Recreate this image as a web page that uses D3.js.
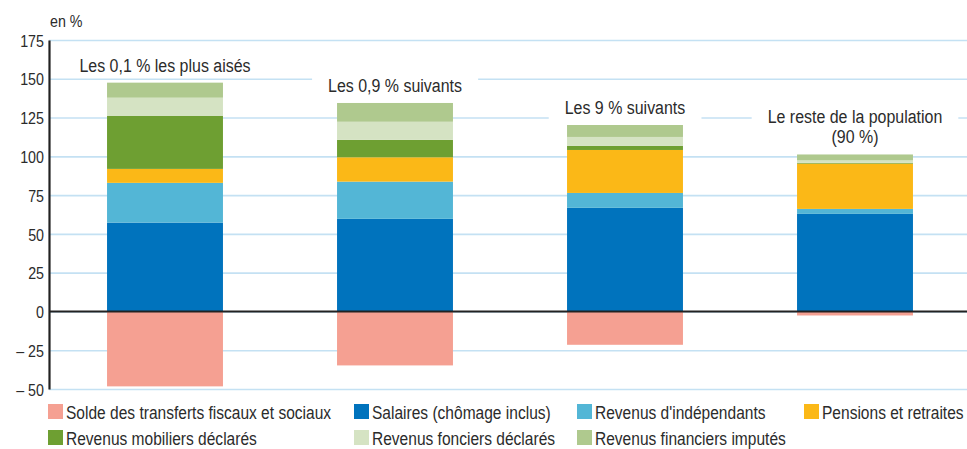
<!DOCTYPE html>
<html>
<head>
<meta charset="utf-8">
<script src="https://cdn.jsdelivr.net/npm/d3@7"></script>
<style>
  body { margin: 0; background: #fff; }
  svg text { font-family: "Liberation Sans", Arial, sans-serif; fill: #2b2b2b; }
</style>
</head>
<body>
<div id="graph"></div>
<script>
// groups (x categories)
var groups = ["Les 0,1 % les plus aisés", "Les 0,9 % suivants", "Les 9 % suivants", "Le reste de la population|(90 %)"];

// series, bottom to top
var seriesNames = ["Salaires (chômage inclus)", "Revenus d'indépendants", "Pensions et retraites",
                   "Revenus mobiliers déclarés", "Revenus fonciers déclarés", "Revenus financiers imputés",
                   "Solde des transferts fiscaux et sociaux"];

var salaires    = [57.3, 59.7, 66.8, 62.9];
var independants = [25.6, 24.0, 9.6, 3.2];
var pensions    = [9.0, 15.7, 27.7, 29.2];
var mobiliers   = [34.1, 11.2, 2.6, 0.5];
var fonciers    = [11.8, 11.7, 5.8, 1.6];
var financiers  = [9.7, 12.1, 7.7, 3.8];
var solde       = [-48.3, -34.8, -21.5, -2.6];

var yTicks = [-50, -25, 0, 25, 50, 75, 100, 125, 150, 175];

// legend order
var legendOrder = ["Solde des transferts fiscaux et sociaux", "Salaires (chômage inclus)", "Revenus d'indépendants",
                   "Pensions et retraites", "Revenus mobiliers déclarés", "Revenus fonciers déclarés",
                   "Revenus financiers imputés"];

var colors = {
  "Salaires (chômage inclus)": "#0073bd",
  "Revenus d'indépendants": "#53b6d6",
  "Pensions et retraites": "#fbb817",
  "Revenus mobiliers déclarés": "#6e9f32",
  "Revenus fonciers déclarés": "#d5e3c3",
  "Revenus financiers imputés": "#afc98e",
  "Solde des transferts fiscaux et sociaux": "#f5a092"
};

var seriesValues = [salaires, independants, pensions, mobiliers, fonciers, financiers, solde];

// table for d3.stack
var table = groups.map(function(g, i) {
  var row = { group: g };
  seriesNames.forEach(function(s, j) { row[s] = seriesValues[j][i]; });
  return row;
});

var width = 967, height = 449;
var condense = 0.84; // squeeze glyphs to look like a condensed face

var chart = d3.select("#graph").append("svg")
  .attr("width", width)
  .attr("height", height);

var xScale = d3.scaleBand()
  .domain(groups)
  .range([50, 970])
  .paddingInner(0.496)
  .paddingOuter(0.248);

var yScale = d3.scaleLinear()
  .domain([-50, 175])
  .range([389, 40]);

// gridlines
chart.append("g")
  .attr("class", "grid")
  .attr("transform", "translate(49,0)")
  .call(d3.axisLeft(yScale).tickValues(yTicks).tickSize(-(width - 49)).tickFormat(""))
  .call(function(g) {
    g.select(".domain").remove();
    g.selectAll("line").attr("stroke", "#c4e1f3").attr("stroke-width", 1.6);
  });

// stacked bars
var stack = d3.stack().keys(seriesNames).offset(d3.stackOffsetDiverging);
var layers = stack(table);

chart.append("g").selectAll("g")
  .data(layers)
  .enter().append("g")
  .attr("fill", function(d) { return colors[d.key]; })
  .selectAll("rect")
  .data(function(d) { return d; })
  .enter().append("rect")
  .attr("x", function(d) { return xScale(d.data.group); })
  .attr("width", xScale.bandwidth())
  .attr("y", function(d) { return yScale(Math.max(d[0], d[1])); })
  .attr("height", function(d) { return Math.abs(yScale(d[0]) - yScale(d[1])); });

// zero line
chart.append("line")
  .attr("x1", 49).attr("x2", width)
  .attr("y1", yScale(0)).attr("y2", yScale(0))
  .attr("stroke", "#222").attr("stroke-width", 2);

// y axis
var yAxis = chart.append("g")
  .attr("transform", "translate(49,0)")
  .call(d3.axisLeft(yScale).tickValues(yTicks).tickSize(0).tickPadding(5)
    .tickFormat(function(d) { return d < 0 ? "\u2013 " + Math.abs(d) : d; }));
yAxis.select(".domain").attr("stroke", "#222").attr("stroke-width", 2.2);
yAxis.selectAll("text").attr("font-size", "17px").attr("dy", "0.36em");

chart.append("text")
  .attr("x", 50).attr("y", 27)
  .attr("font-size", "17px")
  .text("en %");

// group labels with white box above each bar
var tops = groups.map(function(g, i) {
  return d3.sum(seriesValues.slice(0, 6), function(s) { return s[i]; });
});

groups.forEach(function(g, i) {
  var lines = g.split("|");
  var cx = xScale(g) + xScale.bandwidth() / 2;
  var baseY = yScale(tops[i]) - 11 - (lines.length - 1) * 20;
  var lab = chart.append("g").attr("class", "grplabel").attr("data-cx", cx);
  lab.append("rect").attr("fill", "#fff");
  var t = lab.append("text")
    .attr("x", cx)
    .attr("text-anchor", "middle")
    .attr("font-size", "19px");
  lines.forEach(function(l, k) {
    t.append("tspan").attr("x", cx).attr("y", baseY + k * 20).text(l);
  });
});

// legend
var legCols = [48, 354, 577, 804];
var legRows = [404, 430];
var legend = chart.append("g").selectAll("g")
  .data(legendOrder)
  .enter().append("g")
  .attr("transform", function(d, i) {
    return "translate(" + legCols[i % 4] + "," + legRows[Math.floor(i / 4)] + ")";
  });
legend.append("rect")
  .attr("width", 15).attr("height", 15)
  .attr("fill", function(d) { return colors[d]; });
legend.append("text")
  .attr("x", 18).attr("y", 14.5)
  .attr("font-size", "18.5px")
  .text(function(d) { return d; });

// condense every text horizontally around its anchor x
chart.selectAll("text").each(function() {
  var ax = +d3.select(this).attr("x") || 0;
  d3.select(this).attr("transform",
    "translate(" + ax + ",0) scale(" + condense + ",1) translate(" + (-ax) + ",0)");
});

// white boxes behind group labels, sized after condensing
chart.selectAll(".grplabel").each(function() {
  var cx = +d3.select(this).attr("data-cx");
  var bb = d3.select(this).select("text").node().getBBox();
  var x0 = cx + (bb.x - cx) * condense;
  d3.select(this).select("rect")
    .attr("x", x0 - 16).attr("y", bb.y - 2)
    .attr("width", bb.width * condense + 32).attr("height", bb.height + 4);
});
</script>
</body>
</html>
